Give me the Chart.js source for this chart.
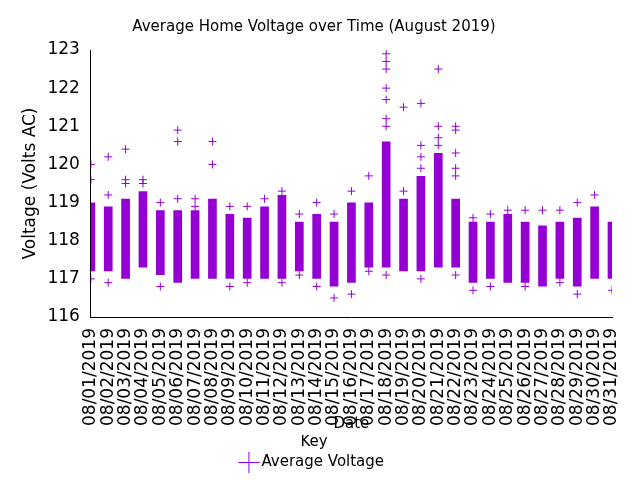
<!DOCTYPE html>
<html>
<head>
<meta charset="utf-8">
<script src="https://cdn.jsdelivr.net/npm/chart.js@4"></script>
<style>
  body { margin: 0; background: #fff; }
  #wrap { width: 640px; height: 480px; }
</style>
</head>
<body>
<div id="wrap"><canvas id="chartCanvas"></canvas></div>
<script>
const days = [];
for (let i = 1; i <= 31; i++) days.push("08/" + String(i).padStart(2, "0") + "/2019");

// dense range of readings per day (low, high)
const lows  = [117.2, 117.2, 117.0, 117.3, 117.1, 116.9, 117.0, 117.0, 117.0, 117.0, 117.0, 117.0, 117.2, 117.0, 116.8, 116.9,
               117.3, 117.3, 117.2, 117.2, 117.3, 117.3, 116.9, 117.0, 116.9, 116.9, 116.8, 117.0, 116.8, 117.0, 117.0];
const highs = [119.0, 118.9, 119.1, 119.3, 118.8, 118.8, 118.8, 119.1, 118.7, 118.6, 118.9, 119.2, 118.5, 118.7, 118.5, 119.0,
               119.0, 120.6, 119.1, 119.7, 120.3, 119.1, 118.5, 118.5, 118.7, 118.5, 118.4, 118.5, 118.6, 118.9, 118.5];
// isolated readings outside the dense range
const outliers = [
  [120.0, 119.6, 117.0], [120.2, 119.2, 116.9], [120.4, 119.6, 119.5], [119.6, 119.5], [119.0, 116.8],
  [120.9, 120.6, 119.1], [119.1, 118.9], [120.6, 120.0], [118.9, 116.8], [118.9, 116.9],
  [119.1], [119.3, 116.9], [118.7, 117.1], [119.0, 116.8], [118.7, 116.5],
  [119.3, 116.6], [119.7, 117.2], [122.9, 122.7, 122.5, 122.0, 121.7, 121.2, 121.0, 117.1], [121.5, 119.3], [121.6, 120.5, 120.2, 119.9, 117.0],
  [122.5, 121.0, 120.7, 120.5], [121.0, 120.9, 120.3, 119.9, 119.7, 117.1], [118.6, 116.7], [118.7, 116.8], [118.8],
  [118.8, 116.8], [118.8], [118.8, 116.9], [119.0, 116.6], [119.2], [116.7]
];
const yTicks = [116, 117, 118, 119, 120, 121, 122, 123];

const purple = "#9400d3";
const font = { family: "DejaVu Sans", size: 17 };
const small = { family: "DejaVu Sans", size: 15 };

const bars = days.map((d, i) => ({ x: i + 1, y: [lows[i], highs[i]] }));
const points = [];
outliers.forEach((list, i) => list.forEach(v => points.push({ x: i + 1, y: v })));

const ctx = document.getElementById("chartCanvas").getContext("2d");
new Chart(ctx, {
  data: {
    datasets: [
      { type: "bar", label: "range", data: bars, backgroundColor: purple,
        barPercentage: 0.5, categoryPercentage: 1, grouped: false },
      { type: "scatter", label: "Average Voltage", data: points, pointStyle: "cross", pointRadius: 4,
        borderColor: purple, backgroundColor: purple, borderWidth: 1 }
    ]
  },
  options: {
    responsive: true,
    maintainAspectRatio: false,
    animation: false,
    layout: { padding: { left: 16, right: 28, top: 6, bottom: 0 } },
    plugins: {
      title: { display: true, text: "Average Home Voltage over Time (August 2019)", color: "#000",
               font: { family: "DejaVu Sans", size: 15, weight: "normal" }, padding: { top: 12, bottom: 14 } },
      legend: {
        position: "bottom",
        title: { display: true, text: "Key", color: "#000", font: small, padding: 0 },
        labels: {
          color: "#000", font: small, usePointStyle: true, pointStyle: "cross", boxWidth: 10,
          padding: 2,
          filter: item => item.text === "Average Voltage"
        }
      },
      tooltip: { enabled: false }
    },
    scales: {
      x: {
        type: "linear", min: 1, max: 31, offset: false,
        grid: { display: false },
        border: { color: "#000" },
        title: { display: true, text: "Date", color: "#000", font: small, padding: { top: -14, bottom: 2 } },
        afterBuildTicks: axis => { axis.ticks = days.map((d, i) => ({ value: i + 1 })); },
        ticks: { color: "#000", font: font, minRotation: 90, maxRotation: 90, autoSkip: false,
                 callback: v => days[v - 1] }
      },
      y: {
        min: 116, max: 123,
        grid: { display: false },
        border: { color: "#000" },
        title: { display: true, text: "Voltage (Volts AC)", color: "#000", font: font },
        afterBuildTicks: axis => { axis.ticks = yTicks.map(v => ({ value: v })); },
        ticks: { color: "#000", font: font }
      }
    }
  }
});
</script>
</body>
</html>
